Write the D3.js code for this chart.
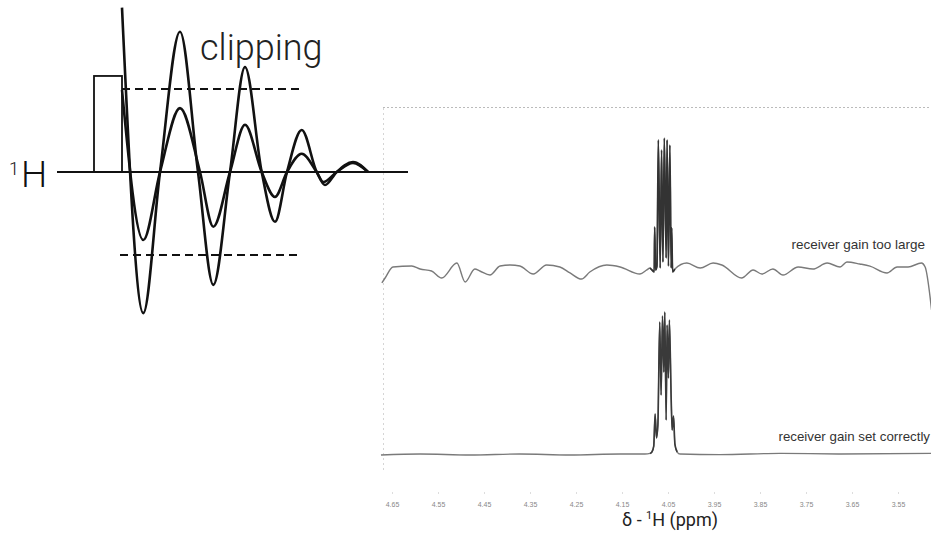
<!DOCTYPE html>
<html>
<head>
<meta charset="utf-8">
<script src="https://cdn.jsdelivr.net/npm/d3@7"></script>
<style>
  html, body { margin: 0; padding: 0; background: #fff; }
  svg { display: block; }
</style>
</head>
<body>
<svg id="chart" width="931" height="540"></svg>
<script>
// ---- FID sketch (time in arbitrary units, amplitude relative to ADC limit) ----
const fidLargeT = [0, 21.3, 38, 58, 76, 91.3, 108, 123, 139.7, 153, 165, 179.7, 194.7, 203, 214.7, 231, 246];
const fidLargeA = [1.98, -1.70, 0, 1.69, 0, -1.36, 0, 1.265, 0, -0.60, 0, 0.506, 0, -0.157, 0, 0.12, 0];
const fidSmallT = [0, 21.3, 38, 58, 78, 91.3, 108, 123, 139.7, 153, 165, 179.7, 194.7, 201.3, 214.7, 231, 246];
const fidSmallA = [0.99, -0.82, 0, 0.77, 0, -0.66, 0, 0.57, 0, -0.30, 0, 0.22, 0, -0.12, 0, 0.11, 0];
const clipLevels = [1, -1];
const pulse = { start: -28, end: 0, height: 1.157 };

// ---- 1H spectra: chemical shift (ppm) and intensity (tallest line = 100) ----
const ppmTicks = [4.65, 4.55, 4.45, 4.35, 4.25, 4.15, 4.05, 3.95, 3.85, 3.75, 3.65, 3.55];

const upperPpm = [4.672, 4.665, 4.648, 4.607, 4.589, 4.564, 4.542, 4.509, 4.491, 4.470, 4.459, 4.437,
  4.415, 4.393, 4.372, 4.343, 4.314, 4.285, 4.263, 4.238, 4.220, 4.183, 4.154, 4.111, 4.096,
  4.089, 4.085, 4.080, 4.079, 4.077, 4.074, 4.071, 4.067, 4.064, 4.061, 4.058, 4.054, 4.052,
  4.049, 4.046, 4.043, 4.042, 4.040, 4.035,
  4.009, 3.980, 3.952, 3.933, 3.890, 3.865, 3.846, 3.822, 3.800, 3.767, 3.735, 3.704, 3.676,
  3.661, 3.633, 3.611, 3.574, 3.552, 3.528, 3.499, 3.491, 3.477];
const upperInt = [-11.5, -7.7, 0.8, 1.5, -0.8, -2.3, -7.7, 3.8, -10.8, -0.8, -2.3, -5.4,
  1.5, 2.3, 1.5, -4.6, 2.3, 0.8, -3.8, -8.5, -3.1, 2.3, 0.8, -4.6, -1.5,
  0, -1.5, -3, 31.5, -1.5, 1.5, 98.5, 0, 90.8, 4.6, 100, 7.7, 98.5,
  1.5, 94.6, 0, 30.8, -3, -0.8,
  3.8, 0, 3.8, 2.3, -7.7, -1.5, -4.6, -0.8, -5.4, 0.8, -0.8, 3.8, 0.8,
  4.6, 3.1, 1.5, -3.8, 0.8, 0.8, 3.8, 0.8, -32.3];

const lowerPpm = [4.674, 4.589, 4.480, 4.372, 4.263, 4.154, 4.100,
  4.089, 4.085, 4.081, 4.078, 4.075, 4.072, 4.068, 4.065, 4.062, 4.059, 4.057, 4.054, 4.052,
  4.049, 4.047, 4.043, 4.041, 4.038, 4.035, 4.030, 4.024,
  3.937, 3.807, 3.676, 3.478];
const lowerInt = [-0.7, 0, -0.7, 0, -0.7, 0, 0,
  0.4, 1.4, 5.6, 28.2, 11.3, 20.4, 93, 41.5, 97.2, 57.7, 100, 23.9, 90.8,
  53.5, 94.4, 38, 16.9, 26.8, 7, 1.4, 0,
  -0.4, 0.4, 0, 0.4];

// multiplet region drawn with a heavier pen
const multipletRange = [4.095, 4.028];

const svg = d3.select("#chart");
const ink = "#111";

// ---------------- FID sketch ----------------
const fx = d3.scaleLinear().domain([0, 246]).range([122, 368]);
const fy = d3.scaleLinear().domain([-1, 1]).range([255, 89]);

const fid = svg.append("g").attr("class", "fid");

// time axis
fid.append("line")
  .attr("x1", fx(-65)).attr("x2", fx(286))
  .attr("y1", fy(0)).attr("y2", fy(0))
  .attr("stroke", ink).attr("stroke-width", 2.2);

// excitation pulse
fid.append("rect")
  .attr("x", fx(pulse.start)).attr("y", fy(pulse.height))
  .attr("width", fx(pulse.end) - fx(pulse.start))
  .attr("height", fy(0) - fy(pulse.height))
  .attr("fill", "none").attr("stroke", ink).attr("stroke-width", 1.8);

// receiver limits
fid.selectAll("line.clip")
  .data(clipLevels)
  .join("line")
  .attr("class", "clip")
  .attr("x1", d => fx(d > 0 ? 0 : -2)).attr("x2", fx(178))
  .attr("y1", d => fy(d)).attr("y2", d => fy(d))
  .attr("stroke", ink).attr("stroke-width", 2)
  .attr("stroke-dasharray", "8,5");

const fidLine = d3.line()
  .x(d => fx(d[0])).y(d => fy(d[1]))
  .curve(d3.curveMonotoneX);

fid.append("path")
  .datum(d3.zip(fidSmallT, fidSmallA))
  .attr("d", fidLine)
  .attr("fill", "none").attr("stroke", ink).attr("stroke-width", 2.6);

fid.append("path")
  .datum(d3.zip(fidLargeT, fidLargeA))
  .attr("d", fidLine)
  .attr("fill", "none").attr("stroke", ink).attr("stroke-width", 2.6);

fid.append("text")
  .attr("x", 200).attr("y", 60)
  .attr("font-family", "Roboto, 'Liberation Sans', sans-serif")
  .attr("font-weight", 300)
  .attr("font-size", 36)
  .attr("fill", "#222")
  .text("clipping");

const nucl = fid.append("text")
  .attr("x", 9).attr("y", 187)
  .attr("font-family", "Roboto, 'Liberation Sans', sans-serif")
  .attr("font-weight", 300)
  .attr("fill", "#111");
nucl.append("tspan").attr("font-size", 18).attr("dy", -12).text("1");
nucl.append("tspan").attr("font-size", 37).attr("dy", 12).attr("dx", 2).text("H");

// ---------------- spectra ----------------
const x = d3.scaleLinear().domain([4.65, 3.55]).range([392, 898]);
const yUpper = d3.scaleLinear().domain([0, 100]).range([268, 138]);
const yLower = d3.scaleLinear().domain([0, 100]).range([454, 312]);

const spec = svg.append("g").attr("class", "spectra");

// plot frame (faint dotted)
spec.append("line")
  .attr("x1", 383).attr("x2", 931).attr("y1", 107.5).attr("y2", 107.5)
  .attr("stroke", "#bbb").attr("stroke-width", 1).attr("stroke-dasharray", "2,2");
spec.append("line")
  .attr("x1", 383.5).attr("x2", 383.5).attr("y1", 108).attr("y2", 470)
  .attr("stroke", "#d5d5d5").attr("stroke-width", 1).attr("stroke-dasharray", "2,3");

const traceUpper = d3.line()
  .x(d => x(d[0])).y(d => yUpper(d[1]))
  .curve(d3.curveMonotoneX);
const traceLower = d3.line()
  .x(d => x(d[0])).y(d => yLower(d[1]))
  .curve(d3.curveMonotoneX);

const upperData = d3.zip(upperPpm, upperInt);
const lowerData = d3.zip(lowerPpm, lowerInt);
const inMultiplet = d => d[0] <= multipletRange[0] && d[0] >= multipletRange[1];

spec.append("path")
  .datum(upperData)
  .attr("d", traceUpper)
  .attr("fill", "none").attr("stroke", "#7a7a7a").attr("stroke-width", 1.4);
spec.append("path")
  .datum(upperData.filter(inMultiplet))
  .attr("d", traceUpper)
  .attr("fill", "none").attr("stroke", "#333").attr("stroke-width", 1.7);

spec.append("path")
  .datum(lowerData)
  .attr("d", traceLower)
  .attr("fill", "none").attr("stroke", "#7a7a7a").attr("stroke-width", 1.3);
spec.append("path")
  .datum(lowerData.filter(inMultiplet))
  .attr("d", traceLower)
  .attr("fill", "none").attr("stroke", "#3a3a3a").attr("stroke-width", 1.6);

const labelFont = "'Liberation Sans', Arial, sans-serif";
spec.append("text")
  .attr("x", 925).attr("y", 249)
  .attr("text-anchor", "end")
  .attr("font-family", labelFont).attr("font-size", 13.5)
  .attr("fill", "#333")
  .text("receiver gain too large");
spec.append("text")
  .attr("x", 930).attr("y", 441)
  .attr("text-anchor", "end")
  .attr("font-family", labelFont).attr("font-size", 13.3)
  .attr("fill", "#333")
  .text("receiver gain set correctly");

// chemical shift axis
const axis = spec.append("g")
  .attr("transform", "translate(0,492)")
  .call(d3.axisBottom(x).tickValues(ppmTicks).tickFormat(d3.format(".2f")).tickSize(2).tickPadding(8));
axis.select(".domain").remove();
axis.selectAll(".tick line").attr("stroke", "#ddd");
axis.selectAll(".tick text")
  .attr("font-family", labelFont).attr("font-size", 7).attr("fill", "#888");

const title = spec.append("text")
  .attr("x", 670).attr("y", 526)
  .attr("text-anchor", "middle")
  .attr("font-family", "Roboto, 'Liberation Sans', sans-serif")
  .attr("font-size", 18).attr("fill", "#222");
title.append("tspan").text("δ - ");
title.append("tspan").attr("font-size", 11).attr("dy", -7).text("1");
title.append("tspan").attr("dy", 7).text("H (ppm)");
</script>
</body>
</html>
